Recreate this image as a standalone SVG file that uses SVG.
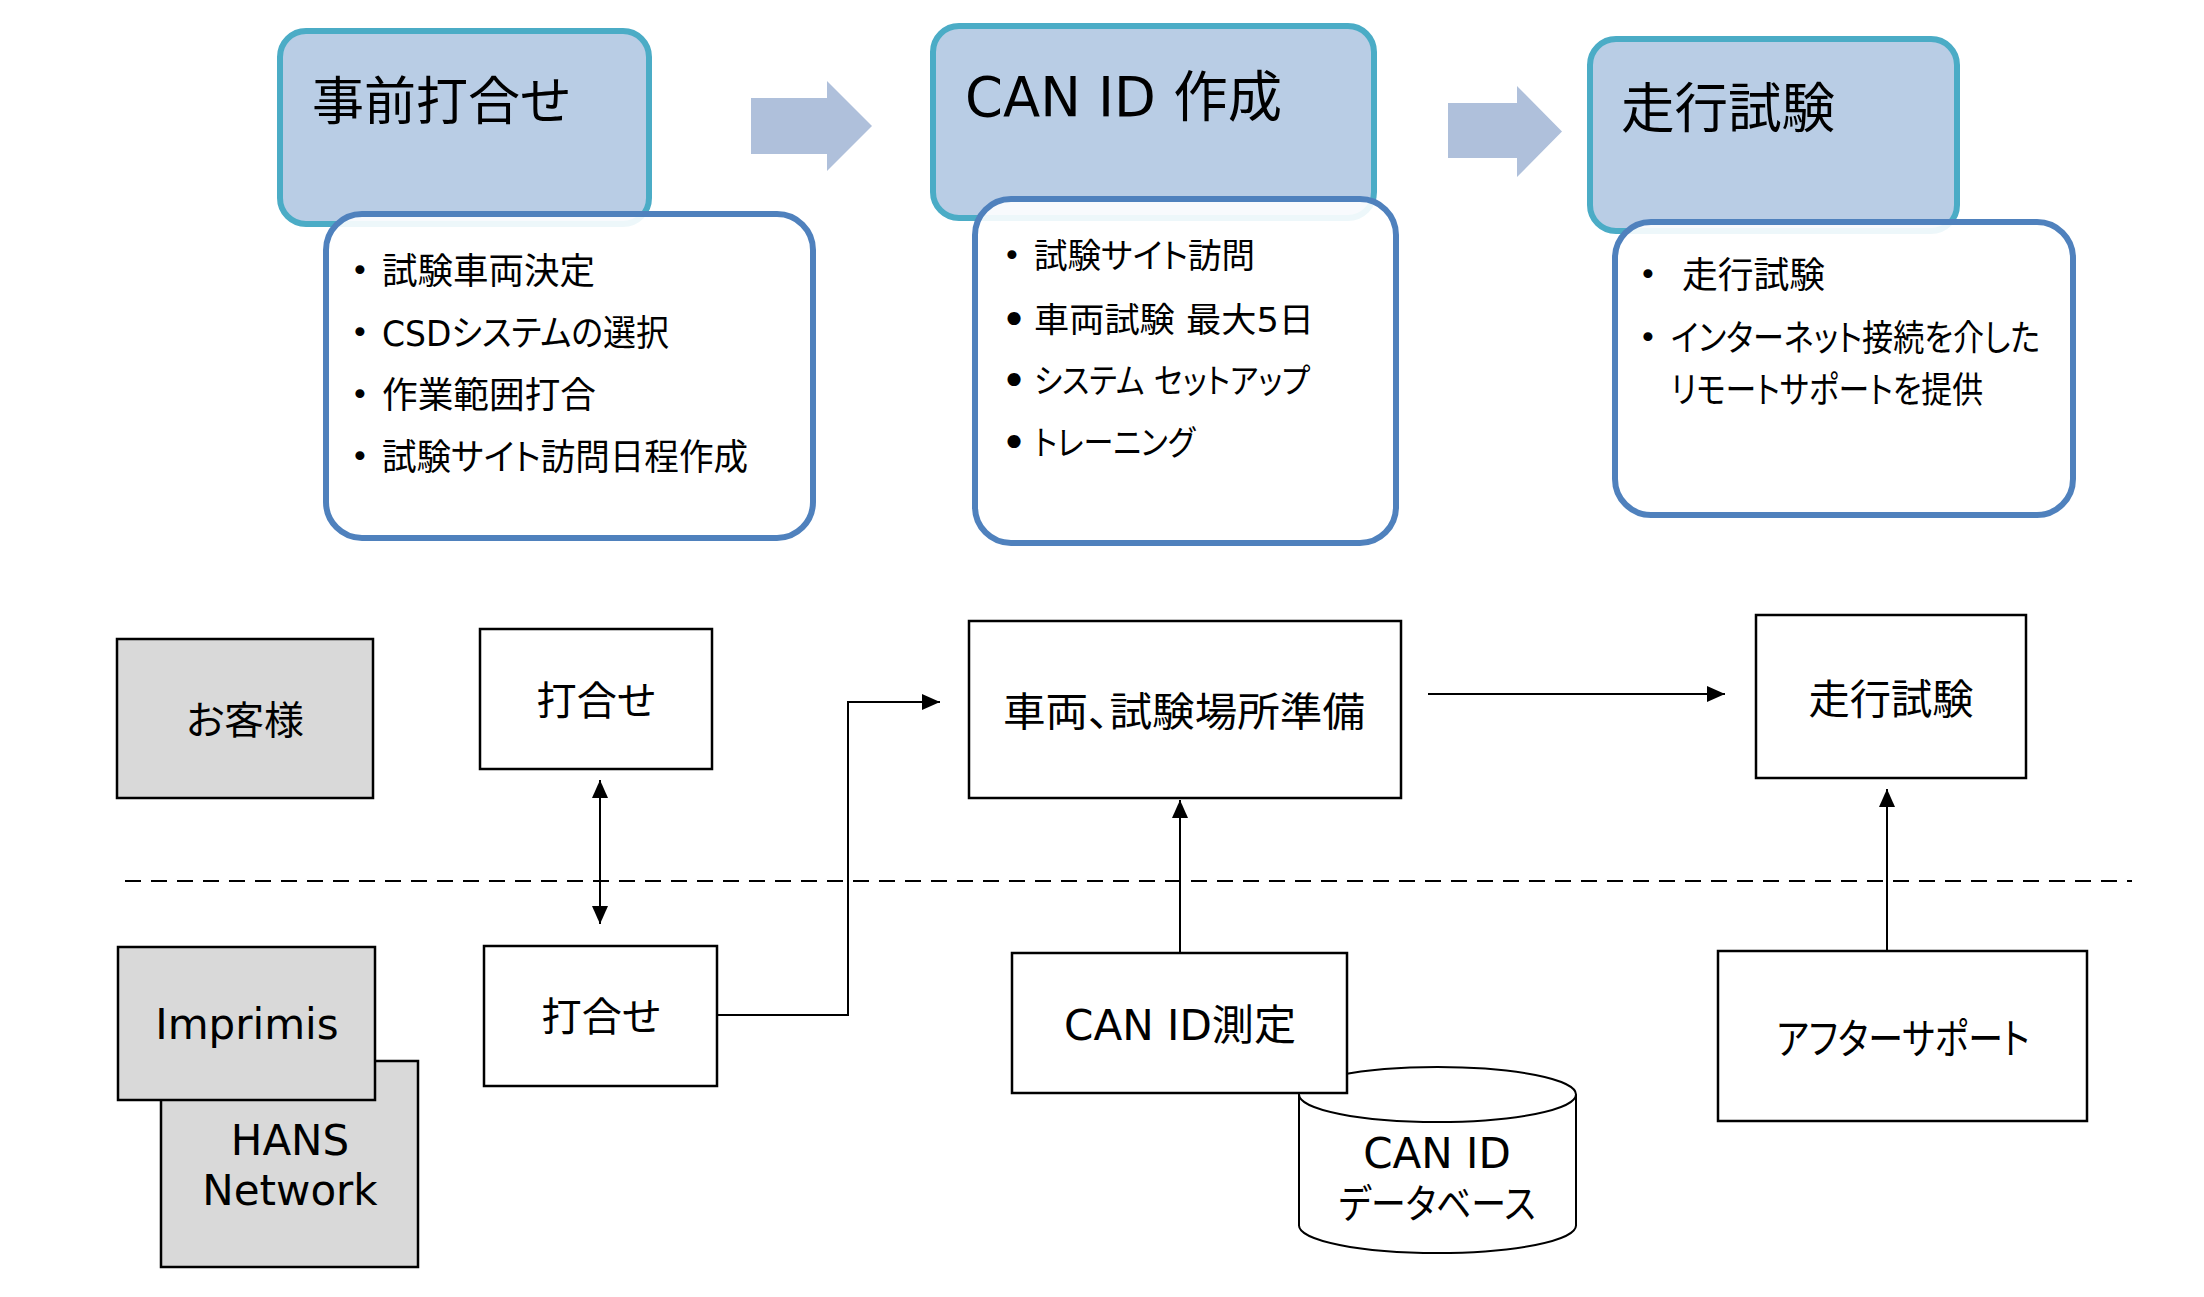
<svg xmlns="http://www.w3.org/2000/svg" width="2204" height="1297" viewBox="0 0 2204 1297">
<defs>
<style>
text{font-family:'DejaVu Sans','Noto Sans CJK JP',sans-serif;fill:#000;font-feature-settings:'palt' 1;}
.hdr{fill:#B9CDE5;stroke:#4BACC6;stroke-width:6;}
.det{fill:#FFFFFF;fill-opacity:0.9;stroke:#4F81BD;stroke-width:6;}
.blk{fill:#AFC0DB;}
.box{fill:#FFFFFF;stroke:#000;stroke-width:2.5;}
.gray{fill:#D9D9D9;stroke:#000;stroke-width:2.5;}
.ttl{font-size:52px;}
.b1{font-size:36px;}
.b2{font-size:34px;}
.lbl{font-size:40px;text-anchor:middle;}
.lat{font-size:42px;text-anchor:middle;}
.dot{font-size:31px;text-anchor:middle;}
.bigdot{font-size:45px;text-anchor:middle;}
.con{fill:none;stroke:#000;stroke-width:2;}
</style>
<marker id="ah" markerUnits="userSpaceOnUse" markerWidth="18" markerHeight="16" refX="18" refY="8" orient="auto-start-reverse">
<path d="M0,0 L18,8 L0,16 z" fill="#000"/>
</marker>
</defs>

<g id="step1-header">
<rect class="hdr" x="280" y="31" width="369" height="193" rx="26"/>
<text class="ttl" x="312" y="120" textLength="258" lengthAdjust="spacingAndGlyphs">事前打合せ</text>
</g>
<g id="step1-detail">
<rect class="det" x="326" y="214" width="487" height="324" rx="36"/>
<text class="dot" x="360" y="281">•</text>
<text class="b1" x="382" y="284" textLength="213" lengthAdjust="spacingAndGlyphs">試験車両決定</text>
<text class="dot" x="360" y="343">•</text>
<text class="b1" x="382" y="346" textLength="287" lengthAdjust="spacingAndGlyphs">CSDシステムの選択</text>
<text class="dot" x="360" y="405">•</text>
<text class="b1" x="382" y="408" textLength="214" lengthAdjust="spacingAndGlyphs">作業範囲打合</text>
<text class="dot" x="360" y="467">•</text>
<text class="b1" x="382" y="470" textLength="366" lengthAdjust="spacingAndGlyphs">試験サイト訪問日程作成</text>
</g>

<g id="step2-header">
<rect class="hdr" x="933" y="26" width="441" height="192" rx="26"/>
<text x="965" y="116" style="font-size:55px" textLength="317" lengthAdjust="spacingAndGlyphs">CAN ID 作成</text>
</g>
<g id="step2-detail">
<rect class="det" x="975" y="199" width="421" height="344" rx="36"/>
<text class="dot" x="1012" y="266">•</text>
<text class="b2" x="1034" y="268" textLength="221" lengthAdjust="spacingAndGlyphs">試験サイト訪問</text>
<text class="bigdot" x="1014" y="335">•</text>
<text class="b2" x="1034" y="332" textLength="280" lengthAdjust="spacingAndGlyphs">車両試験 最大5日</text>
<text class="bigdot" x="1014" y="396">•</text>
<text class="b2" x="1034" y="393" textLength="276" lengthAdjust="spacingAndGlyphs">システム セットアップ</text>
<text class="bigdot" x="1014" y="458">•</text>
<text class="b2" x="1034" y="455" textLength="161" lengthAdjust="spacingAndGlyphs">トレーニング</text>
</g>

<g id="step3-header">
<rect class="hdr" x="1590" y="39" width="367" height="192" rx="26"/>
<text x="1621" y="128" style="font-size:54px" textLength="214" lengthAdjust="spacingAndGlyphs">走行試験</text>
</g>
<g id="step3-detail">
<rect class="det" x="1615" y="222" width="458" height="293" rx="36"/>
<text class="dot" x="1648" y="285">•</text>
<text class="b1" x="1682" y="288" textLength="143" lengthAdjust="spacingAndGlyphs">走行試験</text>
<text class="dot" x="1648" y="348">•</text>
<text class="b1" x="1671" y="351" textLength="369" lengthAdjust="spacingAndGlyphs">インターネット接続を介した</text>
<text class="b1" x="1671" y="403" textLength="312" lengthAdjust="spacingAndGlyphs">リモートサポートを提供</text>
</g>

<g id="flow-arrows">
<polygon class="blk" points="751,98 827,98 827,81 872,126 827,171 827,154 751,154"/>
<polygon class="blk" points="1448,103 1517,103 1517,86 1562,131.5 1517,177 1517,158 1448,158"/>
</g>

<g id="separator">
<path d="M125,881 H2132" fill="none" stroke="#000" stroke-width="2" stroke-dasharray="16 10"/>
</g>

<g id="customer">
<rect class="gray" x="117" y="639" width="256" height="159"/>
<text class="lbl" x="245" y="734" style="font-size:39px" textLength="118" lengthAdjust="spacingAndGlyphs">お客様</text>
</g>
<g id="hans-network">
<rect class="gray" x="161" y="1061" width="257" height="206"/>
<text class="lat" x="290" y="1155">HANS</text>
<text class="lat" x="290" y="1205">Network</text>
</g>
<g id="imprimis">
<rect class="gray" x="118" y="947" width="257" height="153"/>
<text class="lat" x="247" y="1039">Imprimis</text>
</g>
<g id="meeting-customer">
<rect class="box" x="480" y="629" width="232" height="140"/>
<text class="lbl" x="596" y="715" textLength="119" lengthAdjust="spacingAndGlyphs">打合せ</text>
</g>
<g id="meeting-imprimis">
<rect class="box" x="484" y="946" width="233" height="140"/>
<text class="lbl" x="601" y="1031" textLength="119" lengthAdjust="spacingAndGlyphs">打合せ</text>
</g>
<g id="vehicle-prep">
<rect class="box" x="969" y="621" width="432" height="177"/>
<text class="lbl" x="1184" y="726" textLength="362" lengthAdjust="spacingAndGlyphs">車両、試験場所準備</text>
</g>
<g id="can-id-db">
<path d="M1299,1094.5 A138.5,27.5 0 0 1 1576,1094.5 V1225.5 A138.5,27.5 0 0 1 1299,1225.5 Z" fill="#FFFFFF" stroke="#000" stroke-width="2"/>
<path d="M1299,1094.5 A138.5,27.5 0 0 0 1576,1094.5" fill="none" stroke="#000" stroke-width="2"/>
<text class="lat" x="1437" y="1168">CAN ID</text>
<text class="lbl" x="1437" y="1218" textLength="197" lengthAdjust="spacingAndGlyphs">データベース</text>
</g>
<g id="can-id-measure">
<rect class="box" x="1012" y="953" width="335" height="140"/>
<text class="lat" x="1180" y="1040" textLength="232" lengthAdjust="spacingAndGlyphs">CAN ID測定</text>
</g>
<g id="road-test">
<rect class="box" x="1756" y="615" width="270" height="163"/>
<text class="lbl" x="1891" y="714" style="font-size:41px" textLength="165" lengthAdjust="spacingAndGlyphs">走行試験</text>
</g>
<g id="after-support">
<rect class="box" x="1718" y="951" width="369" height="170"/>
<text class="lbl" x="1903" y="1054" style="font-size:42px" textLength="253" lengthAdjust="spacingAndGlyphs">アフターサポート</text>
</g>

<g id="connectors">
<path class="con" d="M600,780 V924" marker-start="url(#ah)" marker-end="url(#ah)"/>
<path class="con" d="M717,1015 H848 V702 H940" marker-end="url(#ah)"/>
<path class="con" d="M1180,953 V800" marker-end="url(#ah)"/>
<path class="con" d="M1428,694 H1725" marker-end="url(#ah)"/>
<path class="con" d="M1887,951 V789" marker-end="url(#ah)"/>
</g>
</svg>
